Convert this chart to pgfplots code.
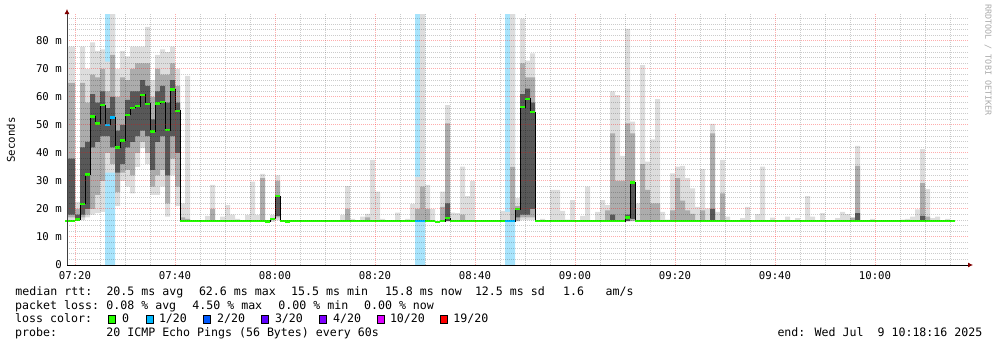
\documentclass[border=0pt]{standalone}
\usepackage{fontspec}
\usepackage{pgfplots}
\usepackage{pgfplotstable}
\pgfplotsset{compat=1.18}
\usepgfplotslibrary{fillbetween}
\usetikzlibrary{arrows.meta}
\setmainfont{DejaVu Sans Mono}
\newfontfamily\monof{DejaVu Sans Mono}
\newcommand\tf{\monof\fontsize{10.7bp}{12bp}\selectfont}
\newcommand\lf{\monof\fontsize{11.6bp}{14bp}\selectfont}
\definecolor{lgreen}{RGB}{38,255,0}
\definecolor{lossA}{RGB}{0,184,255}
\definecolor{lossB}{RGB}{0,89,255}
\definecolor{lossC}{RGB}{94,0,255}
\definecolor{lossD}{RGB}{126,0,255}
\definecolor{lossE}{RGB}{221,0,255}
\definecolor{lossF}{RGB}{255,0,0}
\definecolor{lossbg}{RGB}{168,228,252}
\definecolor{smA}{RGB}{221,221,221}
\definecolor{smB}{RGB}{172,172,172}
\definecolor{smC}{RGB}{88,88,88}
\definecolor{arrowred}{RGB}{128,0,0}
\definecolor{wmark}{RGB}{170,170,170}

% m = minutes after 07:00 (bar from m to m+1)
% l1/h1 light smoke, l2/h2 mid smoke, l3/h3 dark smoke, med = median rtt (ms)
\pgfplotstableread{
m l1 h1 l2 h2 l3 h3 med
18 16 78 17 65 18 38 15.8
19 16 78 17 65 18 38 15.8
20 15.8 22.5 16 20 16 18 16.3
21 16 78 17 65 18 42 21.8
22 17 70 18 58 20 44 32.3
23 18 79.5 20 68 42 61 53.0
24 18.5 76.5 25 67 44 58 50.6
25 19 77 30 70 46 62 57.1
26 33 72.6 40 62 46 56 50.0
27 33 89.6 36 75 42 60 52.7
28 21 70 26 60 33 48 41.9
29 30 76.5 33 67 36 50 44.4
30 28 74.5 34 66 42 59 53.6
31 25.6 78 32 70 44 62 56.1
32 35 78 40 72 46 62 56.7
33 41.7 78 44 72 48 66 60.8
34 36 85 40 72 46 64 57.5
35 25 66 28 60 34 52 47.7
36 25 75 32 70 44 62 57.7
37 28 77 34 68 46 64 58.2
38 17.3 76 22 68 32 58 48.2
39 32 78 38 72 46 66 62.7
40 21 70 28 64 40 58 55.1
41 15.5 22 15.5 17 15.7 15.7 15.7
42 15.7 67.5 15.7 16.5 15.7 15.7 15.7
43 15.7 15.7 15.7 15.7 15.7 15.7 15.7
44 15.7 15.7 15.7 15.7 15.7 15.7 15.7
45 15.7 15.7 15.7 15.7 15.7 15.7 15.7
46 15.7 17.5 15.7 15.7 15.7 15.7 15.7
47 15.7 28.6 15.7 20 15.7 15.7 15.7
48 15.7 15.7 15.7 15.7 15.7 15.7 15.7
49 15.7 17.3 15.7 15.7 15.7 15.7 15.7
50 15.7 21.4 15.7 15.7 15.7 15.7 15.7
51 15.7 18 15.7 15.7 15.7 15.7 15.7
52 15.7 16.5 15.7 15.7 15.7 15.7 15.7
53 15.7 15.7 15.7 15.7 15.7 15.7 15.7
54 15.7 17.9 15.7 15.7 15.7 15.7 15.7
55 15.7 29.8 15.7 15.7 15.7 15.7 15.7
56 15.7 17.9 15.7 15.7 15.7 15.7 15.7
57 15.7 32.5 15.7 31 15.7 15.7 15.7
58 15.7 15.7 15.7 15.7 15.7 15.7 15.5
59 15.7 17.9 15.7 15.7 15.7 15.7 16.5
60 16 32 17 30 17.5 24.6 24.6
61 15.7 15.7 15.7 15.7 15.7 15.7 15.7
62 15.7 15.7 15.7 15.7 15.7 15.7 15.5
63 15.7 15.7 15.7 15.7 15.7 15.7 15.7
64 15.7 15.7 15.7 15.7 15.7 15.7 15.7
65 15.7 15.7 15.7 15.7 15.7 15.7 15.7
66 15.7 15.7 15.7 15.7 15.7 15.7 15.7
67 15.7 15.7 15.7 15.7 15.7 15.7 15.7
68 15.7 15.7 15.7 15.7 15.7 15.7 15.7
69 15.7 15.7 15.7 15.7 15.7 15.7 15.7
70 15.7 15.7 15.7 15.7 15.7 15.7 15.7
71 15.7 15.7 15.7 15.7 15.7 15.7 15.7
72 15.7 15.7 15.7 15.7 15.7 15.7 15.7
73 15.7 17.9 15.7 15.7 15.7 15.7 15.7
74 15.7 28.2 15.7 20 15.7 15.7 15.7
75 15.7 16.5 15.7 15.7 15.7 15.7 15.7
76 15.7 15.7 15.7 15.7 15.7 15.7 15.7
77 15.7 17.3 15.7 15.7 15.7 15.7 15.7
78 15.7 18.3 15.7 17 15.7 15.7 15.7
79 15.7 37.5 15.7 15.7 15.7 15.7 15.7
80 15.7 26.2 15.7 15.7 15.7 15.7 15.7
81 15.7 16.5 15.7 15.7 15.7 15.7 15.7
82 15.7 15.7 15.7 15.7 15.7 15.7 15.7
83 15.7 15.7 15.7 15.7 15.7 15.7 15.7
84 15.7 18.7 15.7 15.7 15.7 15.7 15.7
85 15.7 15.7 15.7 15.7 15.7 15.7 15.7
86 15.7 16.5 15.7 15.7 15.7 15.7 15.7
87 15.7 21.8 15.7 15.7 15.7 15.7 15.7
88 15.7 31.5 15.7 20 15.7 15.7 15.7
89 15.7 89.6 15.7 28 15.7 15.7 15.7
90 15.7 28.6 15.7 20 15.7 15.7 15.7
91 15.7 20 15.7 15.7 15.7 15.7 15.7
92 15.7 15.7 15.7 15.7 15.7 15.7 15.4
93 15.7 26.2 15.7 20.8 15.7 15.7 15.7
94 15.7 57.1 15.7 50.6 15.7 22 16.7
95 15.7 18.7 15.7 15.7 15.7 15.7 15.7
96 15.7 18.5 15.7 15.7 15.7 15.7 15.7
97 15.7 35.1 15.7 18 15.7 15.7 15.7
98 15.7 24.6 15.7 15.7 15.7 15.7 15.7
99 15.7 30 15.7 15.7 15.7 15.7 15.7
100 15.7 15.7 15.7 15.7 15.7 15.7 15.7
101 15.7 15.7 15.7 15.7 15.7 15.7 15.7
102 15.7 15.7 15.7 15.7 15.7 15.7 15.7
103 15.7 15.7 15.7 15.7 15.7 15.7 15.7
104 15.7 15.7 15.7 15.7 15.7 15.7 15.7
105 15.7 19.3 15.7 15.7 15.7 15.7 15.7
106 15.7 19 15.7 15.7 15.7 15.7 15.7
107 15.7 89.6 15.7 35 15.7 15.7 15.7
108 15.7 24 15.7 21 17 20 19.9
109 16 88 17 72 18 61 56.4
110 16 73 17 67 18 63 59.3
111 16 75.6 17 67 20 58 54.6
112 15.7 15.7 15.7 15.7 15.7 15.7 15.7
113 15.7 16.5 15.7 15.7 15.7 15.7 15.7
114 15.7 15.7 15.7 15.7 15.7 15.7 15.7
115 15.7 26.8 15.7 15.7 15.7 15.7 15.7
116 15.7 26.8 15.7 15.7 15.7 15.7 15.7
117 15.7 19.3 15.7 15.7 15.7 15.7 15.7
118 15.7 16.2 15.7 15.7 15.7 15.7 15.7
119 15.7 23.2 15.7 15.7 15.7 15.7 15.7
120 15.7 15.7 15.7 15.7 15.7 15.7 15.7
121 15.7 17.5 15.7 15.7 15.7 15.7 15.7
122 15.7 28 15.7 15.7 15.7 15.7 15.7
123 15.7 15.7 15.7 15.7 15.7 15.7 15.7
124 15.7 19 15.7 15.7 15.7 15.7 15.7
125 15.7 23.2 15.7 15.7 15.7 15.7 15.7
126 15.7 21.4 15.7 19.5 15.7 15.7 15.7
127 15.7 62 15.7 47 15.7 18 15.7
128 15.7 60.7 15.7 30 15.7 15.7 15.7
129 15.7 39 15.7 30 15.7 15.7 15.7
130 15.7 84.3 15.7 50.6 15.7 18 17.0
131 15.7 51.2 15.7 47 16.5 29.5 29.5
132 15.7 22 15.7 15.7 15.7 15.7 15.7
133 15.7 71.4 15.7 36 15.7 15.7 15.7
134 15.7 36.9 15.7 26.8 15.7 15.7 15.7
135 15.7 44.9 15.7 22 15.7 15.7 15.7
136 15.7 59.2 15.7 22 15.7 15.7 15.7
137 15.7 19 15.7 15.7 15.7 15.7 15.7
138 15.7 16.2 15.7 15.7 15.7 15.7 15.7
139 15.7 32.7 15.7 19.5 15.7 15.7 15.7
140 15.7 35.1 15.7 31 15.7 15.7 15.7
141 15.7 35.4 15.7 23 15.7 15.7 15.7
142 15.7 31 15.7 19.5 15.7 15.7 15.7
143 15.7 27.4 15.7 18.3 15.7 15.7 15.7
144 15.7 20.8 15.7 15.7 15.7 15.7 15.7
145 15.7 34.2 15.7 19.5 15.7 15.7 15.7
146 15.7 20.2 15.7 15.7 15.7 15.7 15.7
147 15.7 50.4 15.7 47 15.7 20 15.7
148 15.7 19 15.7 15.7 15.7 15.7 15.7
149 15.7 37.5 15.7 25.6 15.7 15.7 15.7
150 15.7 17.3 15.7 15.7 15.7 15.7 15.7
151 15.7 15.7 15.7 15.7 15.7 15.7 15.7
152 15.7 15.7 15.7 15.7 15.7 15.7 15.7
153 15.7 16.7 15.7 15.7 15.7 15.7 15.7
154 15.7 20.8 15.7 15.7 15.7 15.7 15.7
155 15.7 15.7 15.7 15.7 15.7 15.7 15.7
156 15.7 18.2 15.7 15.7 15.7 15.7 15.7
157 15.7 35.1 15.7 15.7 15.7 15.7 15.7
158 15.7 15.7 15.7 15.7 15.7 15.7 15.7
159 15.7 16.9 15.7 15.7 15.7 15.7 15.7
160 15.7 15.7 15.7 15.7 15.7 15.7 15.7
161 15.7 15.7 15.7 15.7 15.7 15.7 15.7
162 15.7 17.3 15.7 15.7 15.7 15.7 15.7
163 15.7 15.7 15.7 15.7 15.7 15.7 15.7
164 15.7 16.7 15.7 15.7 15.7 15.7 15.7
165 15.7 15.7 15.7 15.7 15.7 15.7 15.7
166 15.7 24.6 15.7 15.7 15.7 15.7 15.7
167 15.7 17.3 15.7 15.7 15.7 15.7 15.7
168 15.7 15.7 15.7 15.7 15.7 15.7 15.7
169 15.7 18.5 15.7 15.7 15.7 15.7 15.7
170 15.7 15.7 15.7 15.7 15.7 15.7 15.7
171 15.7 15.7 15.7 15.7 15.7 15.7 15.7
172 15.7 16.7 15.7 15.7 15.7 15.7 15.7
173 15.7 19 15.7 15.7 15.7 15.7 15.7
174 15.7 18.2 15.7 15.7 15.7 15.7 15.7
175 15.7 17.1 15.7 16.8 15.7 15.7 15.7
176 15.7 42.5 15.7 35.4 15.7 18.5 15.7
177 15.7 15.7 15.7 15.7 15.7 15.7 15.7
178 15.7 15.7 15.7 15.7 15.7 15.7 15.7
179 15.7 16.5 15.7 15.7 15.7 15.7 15.7
180 15.7 15.7 15.7 15.7 15.7 15.7 15.7
181 15.7 15.7 15.7 15.7 15.7 15.7 15.7
182 15.7 15.7 15.7 15.7 15.7 15.7 15.7
183 15.7 15.7 15.7 15.7 15.7 15.7 15.7
184 15.7 15.7 15.7 15.7 15.7 15.7 15.7
185 15.7 16.2 15.7 15.7 15.7 15.7 15.7
186 15.7 16.5 15.7 15.7 15.7 15.7 15.7
187 15.7 17.3 15.7 15.7 15.7 15.7 15.7
188 15.7 19.9 15.7 15.7 15.7 15.7 15.7
189 15.7 41.4 15.7 29.2 15.7 17.5 15.7
190 15.7 27.1 15.7 17.3 15.7 15.7 15.7
191 15.7 16.7 15.7 15.7 15.7 15.7 15.7
192 15.7 17.3 15.7 15.7 15.7 15.7 15.7
193 15.7 15.7 15.7 15.7 15.7 15.7 15.7
194 15.7 16.5 15.7 15.7 15.7 15.7 15.7
195 15.7 15.7 15.7 15.7 15.7 15.7 15.7
196 15.7 15.7 15.7 15.7 15.7 15.7 15.7
}\smoke

\begin{document}
\begin{tikzpicture}
\begin{axis}[
  set layers, axis on top,
  scale only axis, width=901bp, height=251bp,
  at={(0,0)}, anchor=south west,
  xmin=18.4, xmax=198.6, ymin=0, ymax=89.64,
  axis x line*=bottom, axis y line*=left,
  x axis line style={black, line width=0.8bp, -{Latex[length=5bp,width=5bp,color=arrowred]}, shorten >=-5bp},
  y axis line style={black!75, line width=0.8bp, -{Latex[length=5bp,width=5bp,color=arrowred]}, shorten >=-5bp},
  xtick={20,40,60,80,100,120,140,160,180},
  xticklabels={07:20,07:40,08:00,08:20,08:40,09:00,09:20,09:40,10:00},
  minor xtick={25,30,35,45,50,55,65,70,75,85,90,95,105,110,115,125,130,135,145,150,155,165,170,175,185,190,195},
  ytick={0,10,20,30,40,50,60,70,80},
  yticklabels={0,10 m,20 m,30 m,40 m,50 m,60 m,70 m,80 m},
  minor ytick={2,4,6,8,12,14,16,18,22,24,26,28,32,34,36,38,42,44,46,48,52,54,56,58,62,64,66,68,72,74,76,78,82,84,86,88},
  grid=both,
  major grid style={draw=red, draw opacity=0.32, line width=1bp, dash pattern=on 1bp off 1bp},
  minor grid style={draw=black, draw opacity=0.2, line width=1bp, dash pattern=on 1bp off 1bp},
  major tick length=0pt, minor tick length=0pt,
  ticklabel style={font=\tf, text=black},
  yticklabel style={anchor=east, inner sep=0pt, xshift=-5bp},
  xticklabel style={anchor=north, inner sep=0pt, yshift=-6bp},
]
% loss background bars
\addplot[on layer=pre main, ybar, bar width=1, bar shift=0pt, fill=lossbg, draw=none, forget plot]
  coordinates {(26.5,89.64) (27.5,89.64) (88.5,89.64) (89.5,89.64) (106.5,89.64) (107.5,89.64)};
% smoke layers
\addplot[name path=a1, draw=none, const plot, forget plot] table[x=m,y=l1]{\smoke};
\addplot[name path=b1, draw=none, const plot, forget plot] table[x=m,y=h1]{\smoke};
\addplot[fill=smA, draw=none, forget plot] fill between[of=a1 and b1];
\addplot[name path=a2, draw=none, const plot, forget plot] table[x=m,y=l2]{\smoke};
\addplot[name path=b2, draw=none, const plot, forget plot] table[x=m,y=h2]{\smoke};
\addplot[fill=smB, draw=none, forget plot] fill between[of=a2 and b2];
\addplot[name path=a3, draw=none, const plot, forget plot] table[x=m,y=l3]{\smoke};
\addplot[name path=b3, draw=none, const plot, forget plot] table[x=m,y=h3]{\smoke};
\addplot[fill=smC, draw=none, forget plot] fill between[of=a3 and b3];
% median step line
\addplot[const plot, black, line width=1bp, mark=none, forget plot] table[x=m,y=med]{\smoke};
% median marks coloured by loss
\addplot[only marks, mark=-, mark size=2.5bp, mark options={draw=lgreen, line width=2.4bp}, restrict x to domain=0:196, forget plot]
  table[x expr=\thisrow{m}+0.5, y=med]{\smoke};
\addplot[only marks, mark=-, mark size=2.5bp, mark options={draw=lossA, line width=2.4bp}, forget plot]
  coordinates {(26.5,50.0) (27.5,52.7) (88.5,15.7) (89.5,15.7) (106.5,15.7) (107.5,15.7)};
\end{axis}
\node[rotate=90, font=\tf, inner sep=0pt] at (-56bp,125bp) {Seconds};
\node[rotate=-90, inner sep=0pt, text=wmark, font=\monof\fontsize{8.4bp}{9bp}\selectfont] at (921bp,205bp) {RRDTOOL / TOBI OETIKER};
% legend block
\begin{scope}[every node/.style={anchor=base west, inner sep=0pt, font=\lf}]
\node at (-51.7bp,-30bp) {median rtt:};
\node at (39.3bp,-30bp) {20.5 ms avg};
\node at (131.8bp,-30bp) {62.6 ms max};
\node at (224bp,-30bp) {15.5 ms min};
\node at (317.8bp,-30bp) {15.8 ms now};
\node at (407.8bp,-30bp) {12.5 ms sd};
\node at (496bp,-30bp) {1.6};
\node at (538.5bp,-30bp) {am/s};
\node at (-52bp,-44bp) {packet loss:};
\node at (39.2bp,-44bp) {0.08 \% avg};
\node at (125.2bp,-44bp) {4.50 \% max};
\node at (211.2bp,-44bp) {0.00 \% min};
\node at (296.9bp,-44bp) {0.00 \% now};
\node at (-52bp,-57.7bp) {loss color:};
\node at (55bp,-57.7bp) {0};
\node at (91.8bp,-57.7bp) {1/20};
\node at (150bp,-57.7bp) {2/20};
\node at (207.8bp,-57.7bp) {3/20};
\node at (266bp,-57.7bp) {4/20};
\node at (322.8bp,-57.7bp) {10/20};
\node at (386.2bp,-57.7bp) {19/20};
\node at (-52bp,-71.7bp) {probe:};
\node at (39.2bp,-71.7bp) {20 ICMP Echo Pings (56 Bytes) every 60s};
\node at (710.3bp,-71.7bp) {end: Wed Jul\ \ 9 10:18:16 2025};
\end{scope}
\begin{scope}[line width=0.8bp, draw=black]
\filldraw[fill=lgreen] (41.3bp,-58.3bp) rectangle ++(7bp,7.6bp);
\filldraw[fill=lossA] (79bp,-58.3bp) rectangle ++(7bp,7.6bp);
\filldraw[fill=lossB] (136.3bp,-58.3bp) rectangle ++(7bp,7.6bp);
\filldraw[fill=lossC] (194.7bp,-58.3bp) rectangle ++(7bp,7.6bp);
\filldraw[fill=lossD] (252.3bp,-58.3bp) rectangle ++(7bp,7.6bp);
\filldraw[fill=lossE] (310.3bp,-58.3bp) rectangle ++(7bp,7.6bp);
\filldraw[fill=lossF] (373bp,-58.3bp) rectangle ++(7bp,7.6bp);
\end{scope}
\pgfresetboundingbox
\useasboundingbox (-67bp,-82bp) rectangle (930bp,265bp);
\end{tikzpicture}
\end{document}
